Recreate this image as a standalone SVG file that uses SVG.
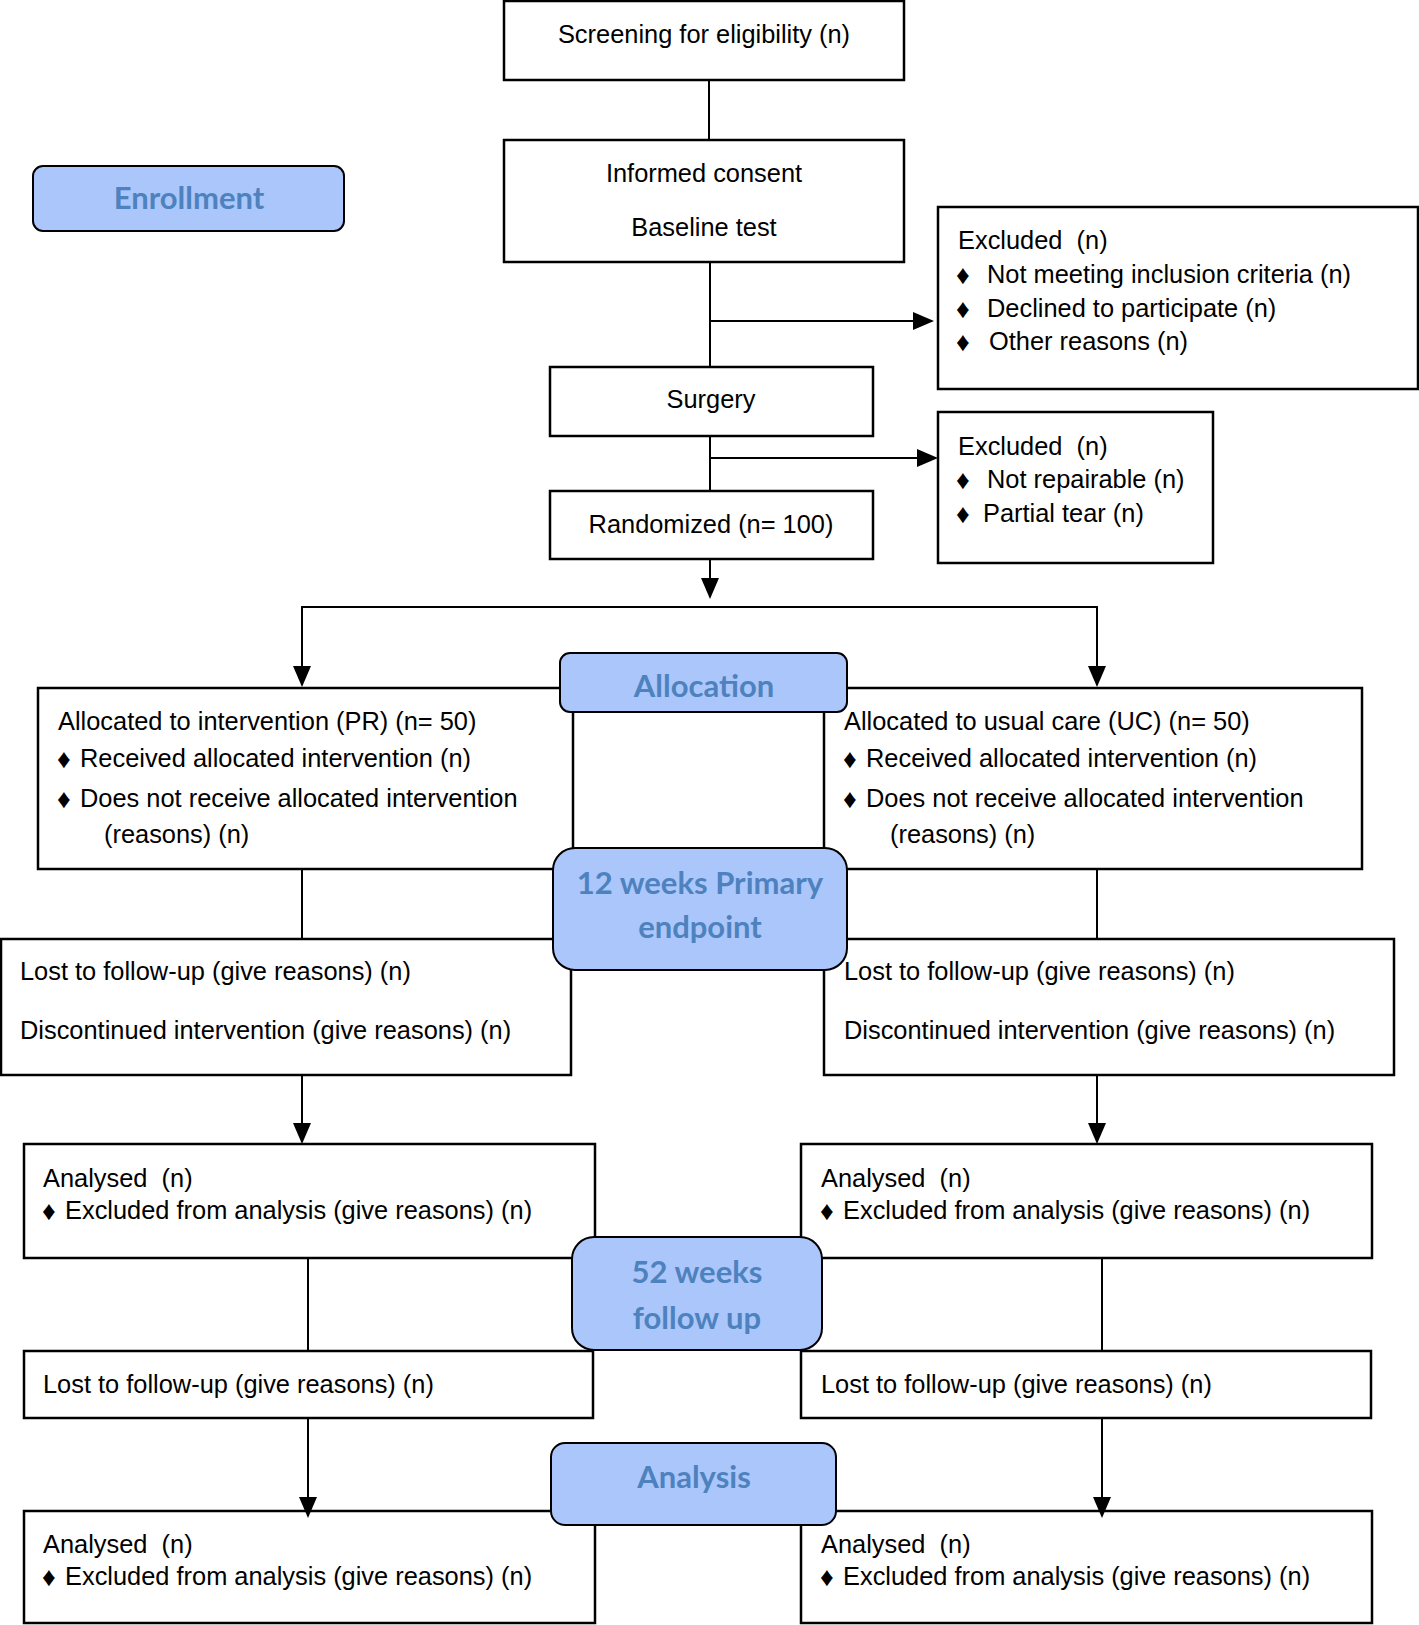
<svg xmlns="http://www.w3.org/2000/svg" width="1419" height="1625" viewBox="0 0 1419 1625">
<defs>
<style>
.box{fill:#fff;stroke:#000;stroke-width:2.5}
.phase{fill:#abc6fa;stroke:#000;stroke-width:2}
.t{font-family:"Liberation Sans",Arial,sans-serif;font-size:25.4px;fill:#000;white-space:pre}
.m{text-anchor:middle}
.b{font-size:27px}
.p{font-family:Lato,"Open Sans",sans-serif;font-weight:bold;font-size:31px;fill:#4d82be;text-anchor:middle}
.c{stroke:#000;stroke-width:2;fill:none}
.a{stroke:#000;stroke-width:2;fill:none;marker-end:url(#ah)}
</style>
<marker id="ah" markerUnits="userSpaceOnUse" markerWidth="22" markerHeight="20" refX="19" refY="9" orient="auto">
<path d="M0,0 L21,9 L0,18 Z" fill="#000"/>
</marker>
</defs>
<rect width="1419" height="1625" fill="#fff"/>

<g id="screening"><rect class="box" x="504" y="1" width="400" height="79"/><text class="t m" x="704" y="43">Screening for eligibility (n)</text></g>
<g id="consent"><rect class="box" x="504" y="140" width="400" height="122"/><text class="t m" x="704" y="182">Informed consent</text><text class="t m" x="704" y="236">Baseline test</text></g>
<g id="excluded1"><rect class="box" x="938" y="207" width="480" height="182"/>
<text class="t" x="958" y="249">Excluded  (n)</text>
<text class="t b" x="956" y="284">♦</text><text class="t" x="987" y="283">Not meeting inclusion criteria (n)</text>
<text class="t b" x="956" y="318">♦</text><text class="t" x="987" y="317">Declined to participate (n)</text>
<text class="t b" x="956" y="351">♦</text><text class="t" x="989" y="350">Other reasons (n)</text></g>
<g id="surgery"><rect class="box" x="550" y="367" width="323" height="69"/><text class="t m" x="711" y="408">Surgery</text></g>
<g id="excluded2"><rect class="box" x="938" y="412" width="275" height="151"/>
<text class="t" x="958" y="455">Excluded  (n)</text>
<text class="t b" x="956" y="489">♦</text><text class="t" x="987" y="488">Not repairable (n)</text>
<text class="t b" x="956" y="523">♦</text><text class="t" x="983" y="522">Partial tear (n)</text></g>
<g id="randomized"><rect class="box" x="550" y="491" width="323" height="68"/><text class="t m" x="711" y="533">Randomized (n= 100)</text></g>

<g id="alloc-pr"><rect class="box" x="38" y="688" width="535" height="181"/>
<text class="t" x="58" y="730">Allocated to intervention (PR) (n= 50)</text>
<text class="t b" x="57" y="768">♦</text><text class="t" x="80" y="767">Received allocated intervention (n)</text>
<text class="t b" x="57" y="808">♦</text><text class="t" x="80" y="807">Does not receive allocated intervention</text>
<text class="t" x="104" y="843">(reasons) (n)</text></g>
<g id="alloc-uc"><rect class="box" x="824" y="688" width="538" height="181"/>
<text class="t" x="844" y="730">Allocated to usual care (UC) (n= 50)</text>
<text class="t b" x="843" y="768">♦</text><text class="t" x="866" y="767">Received allocated intervention (n)</text>
<text class="t b" x="843" y="808">♦</text><text class="t" x="866" y="807">Does not receive allocated intervention</text>
<text class="t" x="890" y="843">(reasons) (n)</text></g>

<g id="lost1-pr"><rect class="box" x="1" y="939" width="570" height="136"/>
<text class="t" x="20" y="980">Lost to follow-up (give reasons) (n)</text>
<text class="t" x="20" y="1039">Discontinued intervention (give reasons) (n)</text></g>
<g id="lost1-uc"><rect class="box" x="824" y="939" width="570" height="136"/>
<text class="t" x="844" y="980">Lost to follow-up (give reasons) (n)</text>
<text class="t" x="844" y="1039">Discontinued intervention (give reasons) (n)</text></g>

<g id="analysed1-pr"><rect class="box" x="24" y="1144" width="571" height="114"/>
<text class="t" x="43" y="1187">Analysed  (n)</text>
<text class="t b" x="42" y="1220">♦</text><text class="t" x="65" y="1219">Excluded from analysis (give reasons) (n)</text></g>
<g id="analysed1-uc"><rect class="box" x="801" y="1144" width="571" height="114"/>
<text class="t" x="821" y="1187">Analysed  (n)</text>
<text class="t b" x="820" y="1220">♦</text><text class="t" x="843" y="1219">Excluded from analysis (give reasons) (n)</text></g>

<g id="lost2-pr"><rect class="box" x="24" y="1351" width="569" height="67"/><text class="t" x="43" y="1393">Lost to follow-up (give reasons) (n)</text></g>
<g id="lost2-uc"><rect class="box" x="801" y="1351" width="570" height="67"/><text class="t" x="821" y="1393">Lost to follow-up (give reasons) (n)</text></g>

<g id="analysed2-pr"><rect class="box" x="24" y="1511" width="571" height="112"/>
<text class="t" x="43" y="1553">Analysed  (n)</text>
<text class="t b" x="42" y="1586">♦</text><text class="t" x="65" y="1585">Excluded from analysis (give reasons) (n)</text></g>
<g id="analysed2-uc"><rect class="box" x="801" y="1511" width="571" height="112"/>
<text class="t" x="821" y="1553">Analysed  (n)</text>
<text class="t b" x="820" y="1586">♦</text><text class="t" x="843" y="1585">Excluded from analysis (give reasons) (n)</text></g>

<g id="connectors">
<path class="c" d="M709,80 V140"/>
<path class="c" d="M710,262 V367"/>
<path class="a" d="M710,321 H932"/>
<path class="c" d="M710,436 V491"/>
<path class="a" d="M710,458 H936"/>
<path class="a" d="M710,559 V597"/>
<path class="c" d="M302,607 H1097"/>
<path class="a" d="M302,606 V685"/>
<path class="a" d="M1097,606 V685"/>
<path class="c" d="M302,869 V939"/>
<path class="c" d="M1097,869 V939"/>
<path class="a" d="M302,1075 V1142"/>
<path class="a" d="M1097,1075 V1142"/>
<path class="c" d="M308,1258 V1351"/>
<path class="c" d="M1102,1258 V1351"/>
<path class="a" d="M308,1418 V1516"/>
<path class="a" d="M1102,1418 V1516"/>
</g>

<g id="enrollment"><rect class="phase" x="33" y="166" width="311" height="65" rx="10"/><text class="p" x="189" y="209">Enrollment</text></g>
<g id="allocation"><rect class="phase" x="560" y="653" width="287" height="59" rx="10"/><text class="p" x="704" y="697">Allocation</text></g>
<g id="primary-endpoint"><rect class="phase" x="553" y="848" width="294" height="122" rx="22"/><text class="p" x="700" y="894">12 weeks Primary</text><text class="p" x="700" y="938">endpoint</text></g>
<g id="follow-up"><rect class="phase" x="572" y="1237" width="250" height="113" rx="22"/><text class="p" x="697" y="1283">52 weeks</text><text class="p" x="697" y="1329">follow up</text></g>
<g id="analysis"><rect class="phase" x="551" y="1443" width="285" height="82" rx="14"/><text class="p" x="694" y="1488">Analysis</text></g>
</svg>
